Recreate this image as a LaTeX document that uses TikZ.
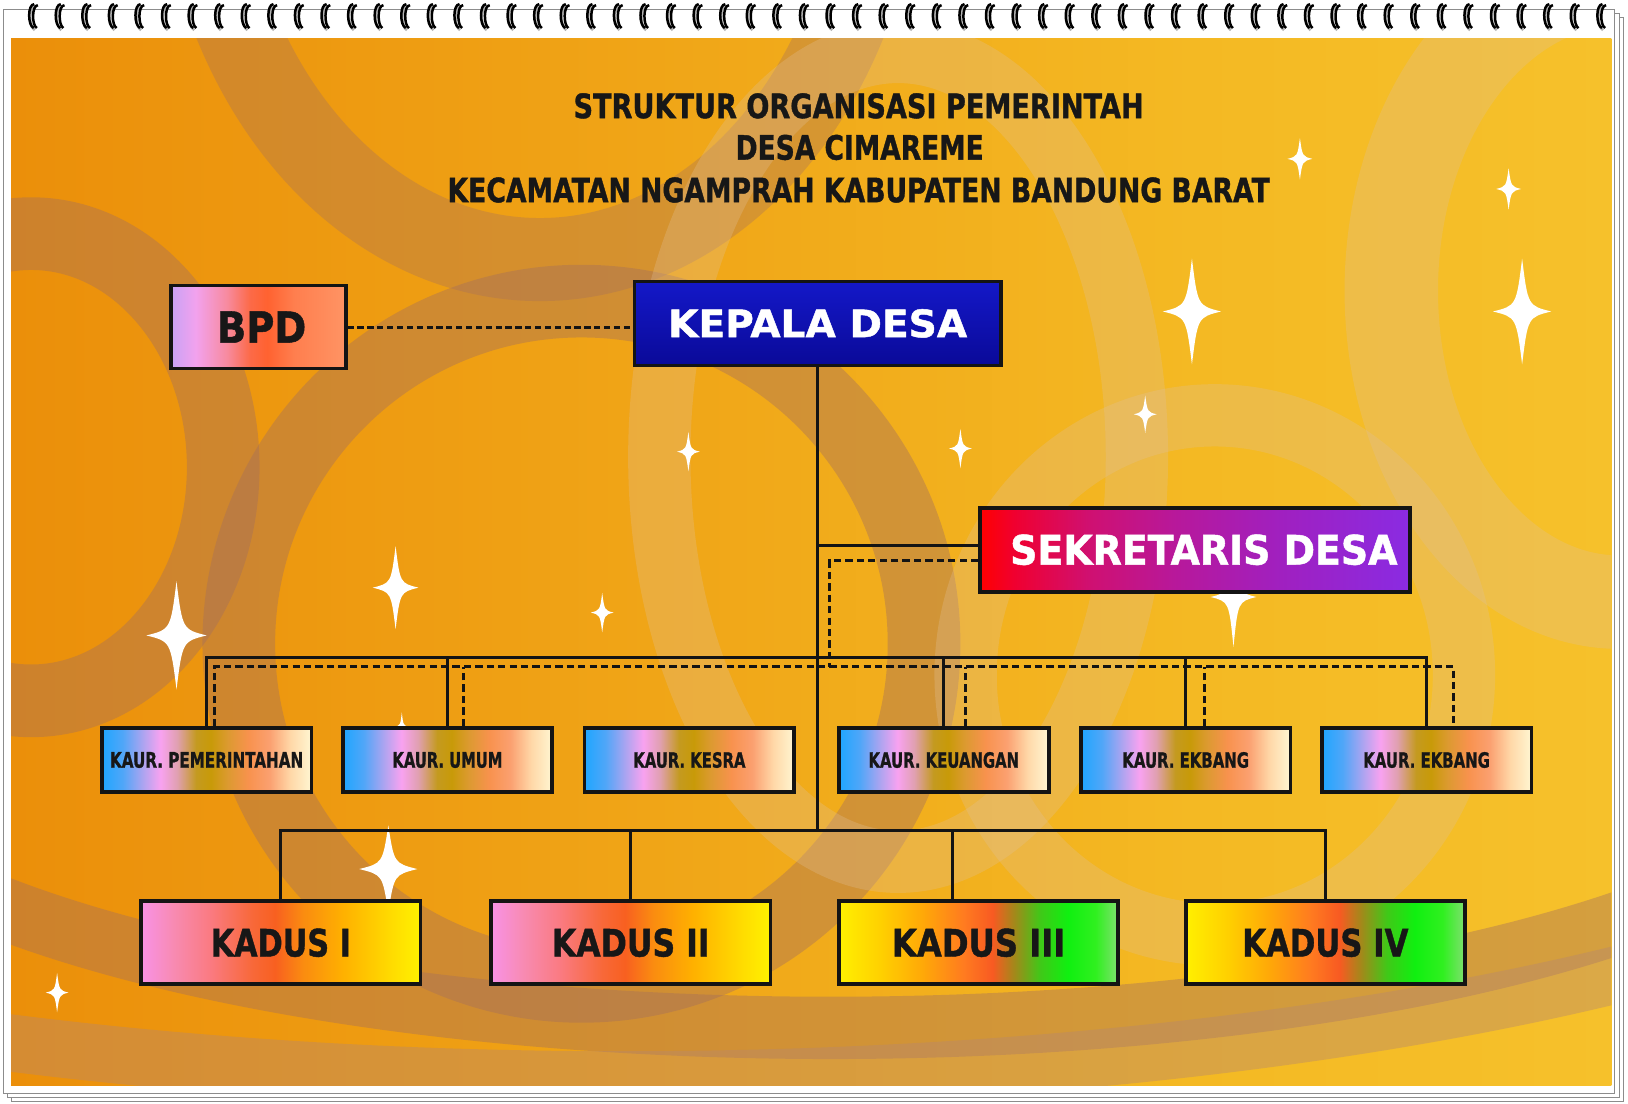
\documentclass[tikz,border=0pt]{standalone}
\usepackage{fontspec}
\setmainfont{DejaVu Sans}[BoldFeatures={FakeBold=1.2}]
\usepackage{graphicx}
\definecolor{bgA}{HTML}{EB8F0A}
\definecolor{bgB}{HTML}{F0A517}
\definecolor{bgC}{HTML}{F4B923}
\definecolor{bgD}{HTML}{F6C12B}
\definecolor{bandD}{RGB}{165,112,92}
\definecolor{bandL}{RGB}{224,192,152}
\definecolor{lineK}{HTML}{141414}
\definecolor{txtK}{HTML}{171717}
% BPD
\definecolor{bp0}{HTML}{C9A2F5}\definecolor{bp1}{HTML}{F2A2EE}\definecolor{bp2}{HTML}{F78A9E}
\definecolor{bp3}{HTML}{FC6A48}\definecolor{bp4}{HTML}{FF6230}\definecolor{bp5}{HTML}{FF7E4E}\definecolor{bp6}{HTML}{FF9464}
% Sekretaris
\definecolor{sk0}{HTML}{FF0000}\definecolor{sk1}{HTML}{F00030}\definecolor{sk2}{HTML}{D01070}
\definecolor{sk3}{HTML}{B8189A}\definecolor{sk4}{HTML}{A020C0}\definecolor{sk5}{HTML}{8A2BE2}
% Kaur
\definecolor{ka0}{HTML}{1EA6FF}\definecolor{ka1}{HTML}{50A6F8}\definecolor{ka2}{HTML}{B0A4F0}
\definecolor{ka3}{HTML}{F8A2F0}\definecolor{ka4}{HTML}{E0A0B0}\definecolor{ka5}{HTML}{C49A20}
\definecolor{ka6}{HTML}{C89A08}\definecolor{ka7}{HTML}{DC9A30}\definecolor{ka8}{HTML}{F8924E}
\definecolor{ka9}{HTML}{FBA070}\definecolor{ka10}{HTML}{FFD8A8}\definecolor{ka11}{HTML}{FFF6D2}
% Kadus A
\definecolor{da0}{HTML}{F892E6}\definecolor{da1}{HTML}{F88AB0}\definecolor{da2}{HTML}{FA7A80}
\definecolor{da3}{HTML}{F86838}\definecolor{da4}{HTML}{F86020}\definecolor{da5}{HTML}{FA8C10}
\definecolor{da6}{HTML}{FFB000}\definecolor{da7}{HTML}{FFD800}\definecolor{da8}{HTML}{FFF200}
% Kadus B
\definecolor{db0}{HTML}{FFF000}\definecolor{db1}{HTML}{FFD000}\definecolor{db2}{HTML}{FFA808}
\definecolor{db3}{HTML}{FF7A20}\definecolor{db4}{HTML}{F85A22}\definecolor{db5}{HTML}{A08A1A}
\definecolor{db6}{HTML}{40C818}\definecolor{db7}{HTML}{10F010}\definecolor{db8}{HTML}{30F020}\definecolor{db9}{HTML}{80E070}
\definecolor{kepT}{HTML}{1418C8}\definecolor{kepB}{HTML}{0A0A98}

\pgfdeclarehorizontalshading{bgshade}{100bp}{color(0bp)=(bgA); color(25bp)=(bgA); color(45bp)=(bgB); color(62bp)=(bgC); color(75bp)=(bgD); color(100bp)=(bgD)}
\pgfdeclarehorizontalshading{bpdshade}{100bp}{color(0bp)=(bp0); color(25bp)=(bp0); color(32bp)=(bp1); color(41bp)=(bp2); color(47.5bp)=(bp3); color(52.5bp)=(bp4); color(60bp)=(bp5); color(75bp)=(bp6); color(100bp)=(bp6)}
\pgfdeclarehorizontalshading{skshade}{100bp}{color(0bp)=(sk0); color(25bp)=(sk0); color(29bp)=(sk1); color(37.5bp)=(sk2); color(47.5bp)=(sk3); color(60bp)=(sk4); color(75bp)=(sk5); color(100bp)=(sk5)}
\pgfdeclarehorizontalshading{kaurshade}{100bp}{color(0bp)=(ka0); color(25bp)=(ka0); color(30bp)=(ka1); color(35bp)=(ka2); color(39bp)=(ka3); color(43bp)=(ka4); color(47.5bp)=(ka5); color(51bp)=(ka6); color(55bp)=(ka7); color(60bp)=(ka8); color(65bp)=(ka9); color(70bp)=(ka10); color(75bp)=(ka11); color(100bp)=(ka11)}
\pgfdeclarehorizontalshading{kadusA}{100bp}{color(0bp)=(da0); color(25bp)=(da0); color(31bp)=(da1); color(37.5bp)=(da2); color(45bp)=(da3); color(49bp)=(da4); color(54bp)=(da5); color(61bp)=(da6); color(69bp)=(da7); color(75bp)=(da8); color(100bp)=(da8)}
\pgfdeclarehorizontalshading{kadusB}{100bp}{color(0bp)=(db0); color(25bp)=(db0); color(32.5bp)=(db1); color(40bp)=(db2); color(47.5bp)=(db3); color(52.5bp)=(db4); color(56.5bp)=(db5); color(61bp)=(db6); color(66bp)=(db7); color(71bp)=(db8); color(75bp)=(db9); color(100bp)=(db9)}

\newcommand\fitt[3]{\resizebox{#1pt}{#2pt}{\bfseries #3}}
\newcommand\mystar[4]{%
  \fill[white,opacity=0.3] (#1,#2) circle[radius={0.32*#4pt}];
  \fill[white] (#1,#2-#3) .. controls (#1+0.2*#4,#2-0.2*#4) .. (#1+#4,#2)
     .. controls (#1+0.2*#4,#2+0.2*#4) .. (#1,#2+#3)
     .. controls (#1-0.2*#4,#2+0.2*#4) .. (#1-#4,#2)
     .. controls (#1-0.2*#4,#2-0.2*#4) .. (#1,#2-#3) -- cycle;}
% elliptic band arc: center x, center y, rx, ry, from angle, to angle (y grows downward)
\newcommand\bandarc[7][]{%
  \draw[#1] plot[domain=#6:#7, samples=90, smooth] ({#2+#4*cos(\x)},{#3+#5*sin(\x)});}

\tikzset{
  orgbox/.style={draw=lineK, line width=3.6pt, inner sep=0pt, align=center},
  kaurbox/.style={orgbox, shading=kaurshade, minimum width=202pt, minimum height=62pt, text=txtK},
  kadusAbox/.style={orgbox, shading=kadusA, minimum width=269pt, minimum height=80pt, text=txtK},
  kadusBbox/.style={orgbox, shading=kadusB, minimum width=269pt, minimum height=80pt, text=txtK},
  conn/.style={draw=lineK, line width=2.9pt},
  dsh/.style={draw=lineK, line width=3pt, dash pattern=on 7pt off 4pt},
  band/.style={line width=#1, opacity=0.42},
  lband/.style={line width=#1, opacity=0.3},
  ringc/.style={draw=black, line width=2.4pt},
  ttl/.style={inner sep=0pt, text=txtK}
}

\begin{document}
\begin{tikzpicture}[x=1pt,y=-1pt]
\useasboundingbox (0,0) rectangle (1568,1063.3);
% stacked sheets
\draw[fill=white, draw=black!45, line width=0.8pt] (11,16.7) rectangle (1564,1061);
\draw[fill=white, draw=black!45, line width=0.8pt] (7,12.7) rectangle (1560,1057);
\draw[fill=white, draw=black!45, line width=0.8pt] (3,8.7) rectangle (1555,1053);
% orange background
\shade[shading=bgshade] (10.6,36.6) rectangle (1552,1045);
\begin{scope}
  \clip (10.6,36.6) rectangle (1552,1045);
  \draw[band=70pt, bandD] (30,450) ellipse [x radius=185pt, y radius=225pt];
  \draw[band=70pt, bandD] (560,620) ellipse [x radius=330pt, y radius=330pt];
  \draw[band=80pt, bandD, opacity=0.35] (520,-170) ellipse [x radius=330pt, y radius=420pt];
  \bandarc[band=60pt, bandD]{800}{700}{1000}{290}{0}{180}
  \bandarc[band=55pt, bandD!70!bandL]{600}{600}{1500}{440}{0}{180}
  \draw[lband=60pt, bandL] (865,440) ellipse [x radius=230pt, y radius=390pt];
  \draw[lband=60pt, bandL] (1170,650) ellipse [x radius=240pt, y radius=250pt];
  \draw[lband=90pt, bandL] (1560,280) ellipse [x radius=220pt, y radius=300pt];
\end{scope}
% spiral rings
\foreach \i in {0,...,59}{
  \pgfmathsetmacro\rx{27+25.6*\i}
  \draw[ringc, black!30] (\rx+7,6) .. controls (\rx+0.5,6) and (\rx+0.5,26) .. (\rx+6.5,29);
  \draw[ringc] (\rx+6,4) .. controls (\rx-0.5,4) and (\rx-0.5,24.5) .. (\rx+5.5,27);
  \draw[ringc] (\rx+9.5,5) .. controls (\rx+3.5,5) and (\rx+3.5,24.5) .. (\rx+8.5,27);
}
% stars
\mystar{1252}{153}{20}{12}
\mystar{1453}{182}{20}{12}
\mystar{1148}{300}{51}{28}
\mystar{1466}{300}{51}{28}
\mystar{1103}{399}{18}{11}
\mystar{663}{435}{19}{11}
\mystar{925}{432}{19}{11}
\mystar{381}{566}{40}{22}
\mystar{580}{590}{19}{11}
\mystar{170}{612}{52}{29}
\mystar{1188}{575}{48}{22}
\mystar{374}{837}{42}{28}
\mystar{55}{956}{19}{11}
\mystar{387}{700}{14}{7}
% title
\node[ttl] (t1) at (827,102) {\fitt{549}{24}{STRUKTUR ORGANISASI PEMERINTAH}};
\node[ttl] (t2) at (828,142) {\fitt{239}{24}{DESA CIMAREME}};
\node[ttl] (t3) at (827,183) {\fitt{792}{24}{KECAMATAN NGAMPRAH KABUPATEN BANDUNG BARAT}};
% boxes
\node[orgbox, shading=bpdshade, minimum width=168pt, minimum height=80pt, text=txtK] (bpd) at (249,315) {\hspace*{6pt}\fitt{86}{30}{BPD}};
\node[orgbox, top color=kepT, bottom color=kepB, minimum width=353pt, minimum height=81pt, text=white] (kepala) at (787.5,311.5) {\fitt{288}{27}{KEPALA DESA}};
\node[orgbox, shading=skshade, minimum width=414pt, minimum height=81pt, text=white] (sekdes) at (1151,529.5) {\hspace*{17pt}\fitt{373}{29}{SEKRETARIS DESA}};
\node[kaurbox] (k1) at (199,732) {\fitt{186}{15}{KAUR. PEMERINTAHAN}};
\node[kaurbox] (k2) at (431,732) {\fitt{106}{15}{KAUR. UMUM}};
\node[kaurbox] (k3) at (664,732) {\fitt{108}{15}{KAUR. KESRA}};
\node[kaurbox] (k4) at (909,732) {\fitt{145}{15}{KAUR. KEUANGAN}};
\node[kaurbox] (k5) at (1142,732) {\fitt{122}{15}{KAUR. EKBANG}};
\node[kaurbox] (k6) at (1374,732) {\fitt{122}{15}{KAUR. EKBANG}};
\node[kadusAbox] (d1) at (270.5,908) {\fitt{135}{27}{KADUS I}};
\node[kadusAbox] (d2) at (607.5,908) {\fitt{152}{27}{KADUS II}};
\node[kadusBbox] (d3) at (942.5,908) {\fitt{167}{27}{KADUS III}};
\node[kadusBbox] (d4) at (1276.5,908) {\fitt{160}{27}{KADUS IV}};
% bus coordinates
\coordinate (kaurbus) at (786,633);
\coordinate (kaurdash) at (799,642);
\coordinate (kadusbus) at (786,800);
% solid connectors
\draw[conn] (kepala.south) -- (kepala.south |- kadusbus);
\draw[conn] ([yshift=4.5pt]sekdes.west) -- ([yshift=4.5pt]sekdes.west -| kepala.south);
\draw[conn] (k1.north) |- (k6.north |- kaurbus) -- (k6.north);
\foreach \n in {k2,k4,k5} \draw[conn] (\n.north) -- (\n.north |- kaurbus);
\draw[conn] (d1.north) |- (d4.north |- kadusbus) -- (d4.north);
\draw[conn] (d2.north) -- (d2.north |- kadusbus);
\draw[conn] ([xshift=-25.5pt]d3.north) -- ([xshift=-25.5pt]d3.north |- kadusbus);
% dashed connectors
\draw[dsh, dash pattern=on 6pt off 3.5pt] (bpd.east) -- (bpd.east -| kepala.west);
\draw[dsh] ([yshift=-10.5pt]sekdes.west) -| (kaurdash);
\draw[dsh] ([xshift=8pt]k1.north) |- ([xshift=26pt]k6.north |- kaurdash) -- ([xshift=26pt]k6.north);
\draw[dsh] ([xshift=15pt]k2.north) -- ([xshift=15pt]k2.north |- kaurdash);
\draw[dsh] ([xshift=21pt]k4.north) -- ([xshift=21pt]k4.north |- kaurdash);
\draw[dsh] ([xshift=18pt]k5.north) -- ([xshift=18pt]k5.north |- kaurdash);
\end{tikzpicture}
\end{document}
